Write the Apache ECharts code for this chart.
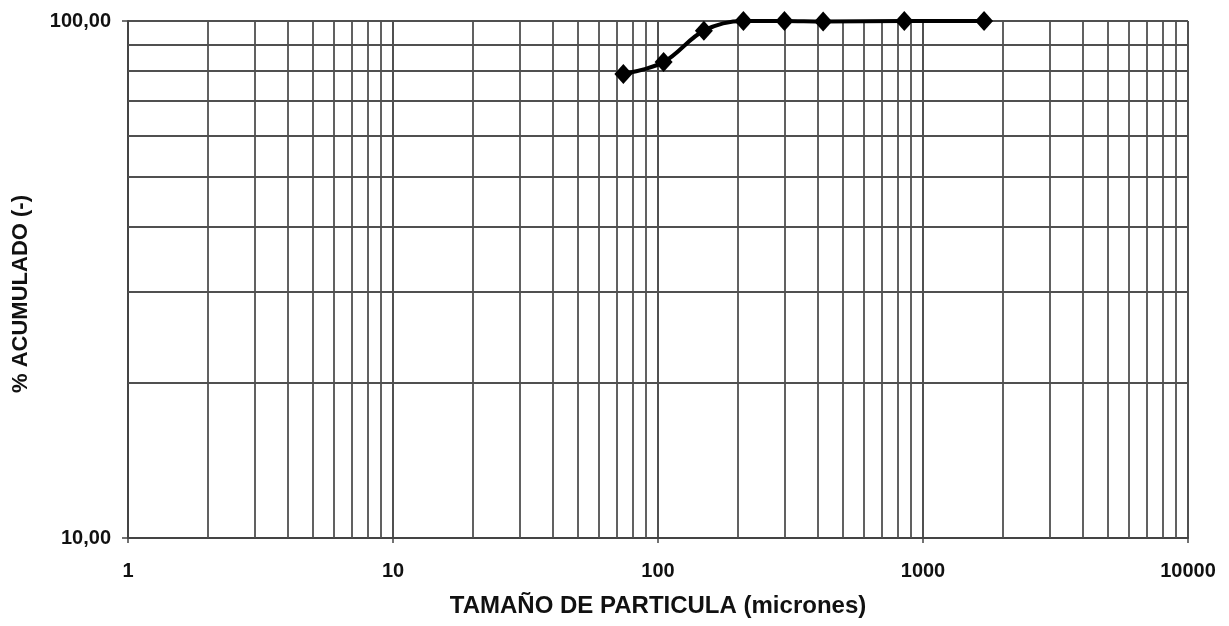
<!DOCTYPE html>
<html>
<head>
<meta charset="utf-8">
<script src="https://cdn.jsdelivr.net/npm/echarts@6/dist/echarts.min.js"></script>
<style>html,body{margin:0;padding:0;background:#fff}#c{width:1229px;height:626px}</style>
</head>
<body>
<div id="c"></div>
<script>
// Data
var sizes = [74, 105, 149, 210, 300, 420, 850, 1700];          // micrones
var cumulative = [79.0, 83.3, 95.8, 100, 100, 99.8, 100, 100];   // % acumulado
// Grid line values (log-paper style)
var xGridValues = [2,3,4,5,6,7,8,9, 20,30,40,50,60,70,80,90, 200,300,400,500,600,700,800,900, 2000,3000,4000,5000,6000,7000,8000,9000];
var yGridValues = [20,30,40,50,60,70,80,90];
var xTitle = 'TAMAÑO DE PARTICULA (micrones)';
var yTitle = '% ACUMULADO (-)';

var chart = echarts.init(document.getElementById('c'));
var gridColor = '#505050';
var font = 'Liberation Sans, Arial, sans-serif';

var markData = [];
xGridValues.forEach(function(v){ markData.push({xAxis: v}); });
yGridValues.forEach(function(v){ markData.push({yAxis: v}); });

chart.setOption({
  animation: false,
  backgroundColor: '#fff',
  grid: {left: 128, right: 41, top: 21, bottom: 88, containLabel: false},
  xAxis: {
    type: 'log', logBase: 10, min: 1, max: 10000,
    name: xTitle, nameLocation: 'middle', nameGap: 56,
    nameTextStyle: {fontFamily: font, fontSize: 24, fontWeight: 'bold', color: '#111'},
    axisLine: {show: true, lineStyle: {color: '#444', width: 2}},
    axisTick: {show: true, length: 5, lineStyle: {color: '#444', width: 1.5}},
    axisLabel: {margin: 23, fontFamily: font, fontSize: 20, fontWeight: 'bold', color: '#111',
      formatter: function(v){ return String(Math.round(v)); }},
    splitLine: {show: true, lineStyle: {color: gridColor, width: 2}},
    minorTick: {show: false}, minorSplitLine: {show: false}
  },
  yAxis: {
    type: 'log', logBase: 10, min: 10, max: 100,
    axisLine: {show: true, lineStyle: {color: '#444', width: 2}},
    axisTick: {show: true, length: 6, lineStyle: {color: '#444', width: 1.5}},
    axisLabel: {margin: 17, fontFamily: font, fontSize: 20, fontWeight: 'bold', color: '#111',
      formatter: function(v){ return v.toFixed(2).replace('.', ','); }},
    splitLine: {show: true, lineStyle: {color: gridColor, width: 2}}
  },
  graphic: [{
    type: 'text', x: 21, y: 294, rotation: Math.PI / 2,
    style: {text: yTitle, fontFamily: font, fontSize: 22, fontWeight: 'bold',
      fill: '#111', textAlign: 'center', textVerticalAlign: 'middle'}
  }],
  series: [{
    type: 'line',
    data: sizes.map(function(s, i){ return [s, cumulative[i]]; }),
    smooth: 0.35,
    clip: false,
    symbol: 'diamond',
    symbolSize: [18, 20],
    itemStyle: {color: '#000'},
    lineStyle: {color: '#000', width: 4},
    z: 5,
    markLine: {
      silent: true, symbol: 'none', animation: false,
      label: {show: false},
      lineStyle: {color: gridColor, width: 1.8, type: 'solid'},
      data: markData,
      z: 1
    }
  }]
});
</script>
</body>
</html>
